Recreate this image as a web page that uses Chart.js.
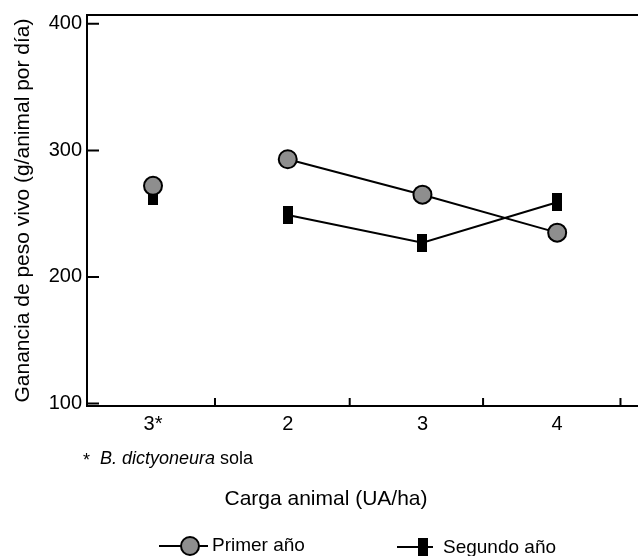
<!DOCTYPE html>
<html><head><meta charset="utf-8">
<script src="https://cdn.jsdelivr.net/npm/chart.js@4"></script>
<style>html,body{margin:0;padding:0;background:#fff;overflow:hidden}canvas{display:block}</style>
</head><body>
<canvas id="c" width="638" height="556"></canvas>
<script>
// ---- data ----
const categories = ['3*', '2', '3', '4'];
const primerAnio = [272, 293, 265, 235];
const segundoAnio = [264, 249, 227, 259];
const seriesLabels = ['Primer año', 'Segundo año'];
const yTickValues = [100, 200, 300, 400];
const xTickMarkValues = [0.46, 1.46, 2.45, 3.47];
const yTitle = 'Ganancia de peso vivo (g/animal por día)';
const xTitle = 'Carga animal (UA/ha)';
const footStar = '*';
const footItalic = 'B. dictyoneura';
const footRest = ' sola';

const FONT = "'Liberation Sans', Arial, sans-serif";
const GRAY = '#8e8e8e';

function rectMarker(w, h) {
  const cv = document.createElement('canvas');
  cv.width = w; cv.height = h;
  const g = cv.getContext('2d');
  g.fillStyle = '#000';
  g.fillRect(0, 0, w, h);
  return cv;
}
const sqMarker = rectMarker(10, 18);

const toPts = arr => arr.map((v, i) => ({x: i, y: v}));
const hideFirst = ctx => ctx.p0DataIndex === 0 ? 'rgba(0,0,0,0)' : '#000';

const decor = {
  id: 'decor',
  afterDraw(chart) {
    const {ctx, chartArea: a, scales: {x, y}} = chart;
    ctx.save();
    ctx.strokeStyle = '#000';
    ctx.lineWidth = 2;
    // top frame line
    ctx.beginPath(); ctx.moveTo(a.left, a.top); ctx.lineTo(a.right, a.top); ctx.stroke();
    // inward tick marks
    ctx.beginPath();
    yTickValues.forEach(v => { const p = y.getPixelForValue(v); ctx.moveTo(a.left, p); ctx.lineTo(a.left + 12, p); });
    xTickMarkValues.forEach(v => { const p = x.getPixelForValue(v); ctx.moveTo(p, a.bottom); ctx.lineTo(p, a.bottom - 8); });
    ctx.stroke();
    ctx.fillStyle = '#000';
    ctx.textBaseline = 'middle';
    // footnote
    ctx.font = '18px ' + FONT;
    ctx.fillText(footStar, 83, 461);
    ctx.font = 'italic 18px ' + FONT;
    ctx.fillText(footItalic, 100, 459);
    const w = ctx.measureText(footItalic).width;
    ctx.font = '18px ' + FONT;
    ctx.fillText(footRest, 100 + w, 459);
    // x axis title
    ctx.font = '21px ' + FONT;
    ctx.textAlign = 'center';
    ctx.fillText(xTitle, 326, 499);
    ctx.textAlign = 'left';
    // legend
    const ly = 546;
    ctx.font = '19px ' + FONT;
    ctx.beginPath(); ctx.moveTo(159, ly); ctx.lineTo(208, ly); ctx.stroke();
    ctx.beginPath(); ctx.arc(190, ly, 9, 0, Math.PI * 2); ctx.fillStyle = GRAY; ctx.fill(); ctx.stroke();
    ctx.fillStyle = '#000';
    ctx.fillText(chart.data.datasets[0].label, 212, ly);
    ctx.beginPath(); ctx.moveTo(397, ly + 1); ctx.lineTo(433, ly + 1); ctx.stroke();
    ctx.drawImage(sqMarker, 418, ly + 1 - 9);
    ctx.fillText(chart.data.datasets[1].label, 443, ly + 2);
    ctx.restore();
  }
};

new Chart(document.getElementById('c'), {
  type: 'line',
  data: {
    datasets: [
      {
        label: seriesLabels[0],
        data: toPts(primerAnio),
        borderColor: '#000', borderWidth: 2,
        pointStyle: 'circle', pointRadius: 9, pointHoverRadius: 9,
        pointBackgroundColor: GRAY, pointBorderColor: '#000', pointBorderWidth: 2,
        segment: {borderColor: hideFirst},
        tension: 0
      },
      {
        label: seriesLabels[1],
        data: toPts(segundoAnio),
        borderColor: '#000', borderWidth: 2,
        pointStyle: sqMarker, pointRadius: 9, pointHoverRadius: 9,
        segment: {borderColor: hideFirst},
        tension: 0
      }
    ]
  },
  plugins: [decor],
  options: {
    responsive: false,
    animation: false,
    devicePixelRatio: 1,
    layout: {autoPadding: false, padding: {top: 15, left: 0, right: 0, bottom: 0}},
    plugins: {legend: {display: false}, tooltip: {enabled: false}},
    scales: {
      x: {
        type: 'linear', min: -0.49, max: 3.6,
        afterBuildTicks: s => { s.ticks = categories.map((c, i) => ({value: i})); },
        afterFit: s => { s.height = 150; s.paddingLeft = 0; s.paddingRight = 0; },
        grid: {display: false, drawTicks: false},
        border: {display: true, color: '#000', width: 2},
        ticks: {
          autoSkip: false, maxRotation: 0, padding: 6, color: '#000',
          font: {family: FONT, size: 20},
          callback: v => categories[v]
        },
        title: {display: false, text: xTitle}
      },
      y: {
        type: 'linear', min: 98, max: 407,
        afterBuildTicks: s => { s.ticks = yTickValues.map(v => ({value: v})); },
        afterFit: s => { s.width = 87; s.paddingTop = 0; s.paddingBottom = 0; },
        grid: {display: false, drawTicks: false},
        border: {display: true, color: '#000', width: 2},
        ticks: {padding: 5, color: '#000', font: {family: FONT, size: 20}},
        title: {display: true, text: yTitle, color: '#000', font: {family: FONT, size: 21}, padding: {top: 11, bottom: 0}}
      }
    }
  }
});
</script>
</body></html>
